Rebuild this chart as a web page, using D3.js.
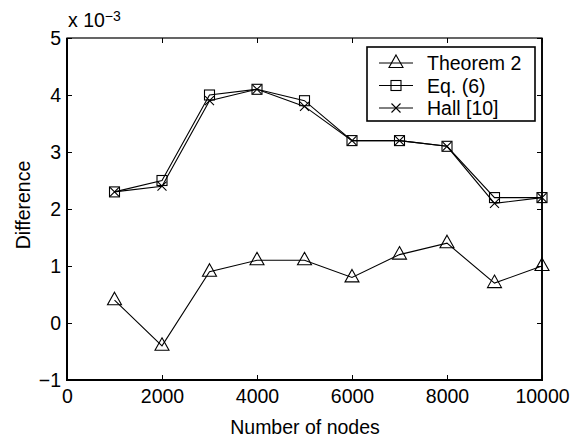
<!DOCTYPE html>
<html>
<head>
<meta charset="utf-8">
<script src="https://cdn.jsdelivr.net/npm/d3@7"></script>
<style>
  body { margin: 0; background: #fff; }
  text { font-family: "Liberation Sans", Arial, sans-serif; fill: #000; }
</style>
</head>
<body>
<svg id="chart" width="585" height="440"></svg>
<script>
// nodes on the x axis, differences in units of 1e-3
const nodes = [1000, 2000, 3000, 4000, 5000, 6000, 7000, 8000, 9000, 10000]
const theorem2 = [0.4, -0.4, 0.9, 1.1, 1.1, 0.8, 1.2, 1.4, 0.7, 1.0]
const eq6 = [2.3, 2.5, 4.0, 4.1, 3.9, 3.2, 3.2, 3.1, 2.2, 2.2]
const hall10 = [2.3, 2.4, 3.9, 4.1, 3.8, 3.2, 3.2, 3.1, 2.1, 2.2]
const xTicks = [0, 2000, 4000, 6000, 8000, 10000]
const yTicks = [-1, 0, 1, 2, 3, 4, 5]

const series = [
    { name: "Theorem 2", values: theorem2, marker: "triangle" },
    { name: "Eq. (6)", values: eq6, marker: "square" },
    { name: "Hall [10]", values: hall10, marker: "cross" }
]

let svg = d3.select("#chart")
let plotL = 67, plotR = 542, plotT = 38, plotB = 380

let x = d3.scaleLinear().domain([0, 10000]).range([plotL, plotR])
let y = d3.scaleLinear().domain([-1, 5]).range([plotB, plotT])

// frame with inward ticks on all four sides
svg.append("rect")
    .attr("x", plotL).attr("y", plotT)
    .attr("width", plotR - plotL).attr("height", plotB - plotT)
    .attr("fill", "none").attr("stroke", "#000").attr("stroke-width", 1.2)
svg.append("line").attr("x1", plotL - 1).attr("x2", plotR + 1).attr("y1", plotB).attr("y2", plotB)
    .attr("stroke", "#000").attr("stroke-width", 2.2)
svg.append("line").attr("x1", plotL).attr("x2", plotL).attr("y1", plotT).attr("y2", plotB)
    .attr("stroke", "#000").attr("stroke-width", 2)
svg.append("line").attr("x1", plotR).attr("x2", plotR).attr("y1", plotT).attr("y2", plotB)
    .attr("stroke", "#000").attr("stroke-width", 1.8)

let xAxis = d3.axisBottom(x).tickValues(xTicks).tickSize(-5).tickPadding(9).tickFormat(d3.format("d"))
let yAxis = d3.axisLeft(y).tickValues(yTicks).tickSize(-5).tickPadding(6)
    .tickFormat(d => d < 0 ? "\u2212" + Math.abs(d) : d)

svg.append("g").attr("transform", "translate(0," + plotB + ")").call(xAxis)
svg.append("g").attr("transform", "translate(" + plotL + ",0)").call(yAxis)
svg.append("g").attr("transform", "translate(0," + plotT + ")")
    .call(d3.axisTop(x).tickValues(xTicks).tickSize(-5).tickFormat(""))
svg.append("g").attr("transform", "translate(" + plotR + ",0)")
    .call(d3.axisRight(y).tickValues(yTicks).tickSize(-5).tickFormat(""))

svg.selectAll(".domain").remove()
svg.selectAll(".tick line").attr("stroke", "#000").attr("stroke-width", 1)
svg.selectAll(".tick text").attr("font-size", 19.5).attr("fill", "#000")
    .style("font-family", "'Liberation Sans', Arial, sans-serif")

// exponent label
let expo = svg.append("text").attr("x", 68).attr("y", 27).style("font-size", "19.5px")
expo.append("tspan").text("x 10")
expo.append("tspan").attr("dy", -6.5).style("font-size", "14px").text("\u22123")

svg.append("text")
    .attr("x", 305).attr("y", 434)
    .attr("text-anchor", "middle").attr("font-size", 19.5)
    .text("Number of nodes")
svg.append("text")
    .attr("transform", "translate(30,205) rotate(-90)")
    .attr("text-anchor", "middle").attr("font-size", 19.5)
    .text("Difference")

let line = d3.line()
    .x((d, i) => x(nodes[i]))
    .y(d => y(d))

function drawMarker(g, kind, cx, cy) {
    if (kind === "triangle") {
        g.append("path")
            .attr("d", "M" + cx + "," + (cy - 8) + "L" + (cx + 7) + "," + (cy + 4.5) + "L" + (cx - 7) + "," + (cy + 4.5) + "Z")
            .attr("fill", "none").attr("stroke", "#000").attr("stroke-width", 1.1)
    } else if (kind === "square") {
        g.append("rect")
            .attr("x", cx - 5).attr("y", cy - 5).attr("width", 10).attr("height", 10)
            .attr("fill", "none").attr("stroke", "#000").attr("stroke-width", 1.1)
    } else {
        g.append("path")
            .attr("d", "M" + (cx - 4.5) + "," + (cy - 4.5) + "L" + (cx + 4.5) + "," + (cy + 4.5) +
                "M" + (cx - 4.5) + "," + (cy + 4.5) + "L" + (cx + 4.5) + "," + (cy - 4.5))
            .attr("fill", "none").attr("stroke", "#000").attr("stroke-width", 1.1)
    }
}

series.forEach(s => {
    svg.append("path")
        .attr("d", line(s.values))
        .attr("fill", "none").attr("stroke", "#000").attr("stroke-width", 1.1)
    let g = svg.append("g")
    s.values.forEach((v, i) => drawMarker(g, s.marker, x(nodes[i]), y(v)))
})

// legend
let lg = svg.append("g")
lg.append("rect")
    .attr("x", 367).attr("y", 47).attr("width", 168).attr("height", 74)
    .attr("fill", "#fff").attr("stroke", "#000").attr("stroke-width", 1.6)
series.forEach((s, i) => {
    let ly = 63 + i * 22.5
    lg.append("line").attr("x1", 379).attr("x2", 413).attr("y1", ly).attr("y2", ly)
        .attr("stroke", "#000").attr("stroke-width", 1)
    drawMarker(lg, s.marker, 396, ly)
    lg.append("text").attr("x", 427).attr("y", ly + 7).attr("font-size", 19.5).text(s.name)
})
</script>
</body>
</html>
